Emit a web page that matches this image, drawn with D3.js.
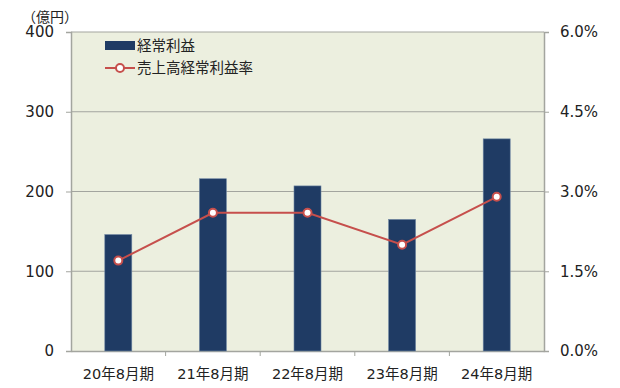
<!DOCTYPE html>
<html><head><meta charset="utf-8">
<script src="https://cdn.jsdelivr.net/npm/d3@7"></script>
<style>body{margin:0;background:#fff}svg{display:block}</style>
</head><body>
<svg id="c" width="620" height="388"></svg>
<script>
const categories = ["20年8月期","21年8月期","22年8月期","23年8月期","24年8月期"];
const profit = [146, 216, 207, 165, 266];
const ratio = [1.7, 2.6, 2.6, 2.0, 2.9];
const leftTicks = [0, 100, 200, 300, 400];
const rightTicks = [0, 1.5, 3.0, 4.5, 6.0];
const seriesNames = ["経常利益", "売上高経常利益率"];

const font = "'DejaVu Sans','Noto Sans CJK JP',sans-serif";
const svg = d3.select("#c");
const L = 71, R = 544, T = 32, B = 351;
const x = d3.scaleBand().domain(categories).range([L, R]).paddingInner(0).paddingOuter(0);
const yL = d3.scaleLinear().domain([0, 400]).range([B, T]);
const yR = d3.scaleLinear().domain([0, 6]).range([B, T]);

svg.append("rect").attr("x", L).attr("y", T).attr("width", R - L).attr("height", B - T).attr("fill", "#ECEFDF");

// gridlines
svg.append("g").selectAll("line").data(leftTicks.filter(d => d > 0)).join("line")
  .attr("x1", L).attr("x2", R).attr("y1", d => yL(d)).attr("y2", d => yL(d))
  .attr("stroke", "#A3A59F").attr("stroke-width", 1.2);

// left axis
const gl = svg.append("g").attr("transform", `translate(${L},0)`)
  .call(d3.axisLeft(yL).tickValues(leftTicks).tickSize(5).tickPadding(12).tickFormat(d3.format("d")));
gl.select(".domain").attr("stroke", "#A3A59F").attr("stroke-width", 1.5);
gl.selectAll(".tick line").attr("stroke", "#A3A59F");
gl.selectAll("text").attr("font-family", font).attr("font-size", 15).attr("fill", "#222");

// right axis
const gr = svg.append("g").attr("transform", `translate(${R},0)`)
  .call(d3.axisRight(yR).tickValues(rightTicks).tickSize(5).tickPadding(11).tickFormat(d => d.toFixed(1) + "%"));
gr.select(".domain").attr("stroke", "#A3A59F").attr("stroke-width", 1.5);
gr.selectAll(".tick line").attr("stroke", "#A3A59F");
gr.selectAll("text").attr("font-family", font).attr("font-size", 15).attr("fill", "#222");

// bottom axis
const gb = svg.append("g").attr("transform", `translate(0,${B})`)
  .call(d3.axisBottom(x).tickSize(0).tickPadding(18));
gb.select(".domain").attr("stroke", "#A3A59F").attr("stroke-width", 1.5);
gb.selectAll("text").attr("font-family", font).attr("font-size", 14.5).attr("fill", "#222");
gb.selectAll("line.sep").data(categories.slice(1)).join("line").attr("class", "sep")
  .attr("x1", d => x(d)).attr("x2", d => x(d)).attr("y1", 0).attr("y2", 5)
  .attr("stroke", "#A3A59F");

// bars
const bw = 27;
svg.append("g").selectAll("rect").data(profit).join("rect")
  .attr("x", (d, i) => x(categories[i]) + x.bandwidth() / 2 - bw / 2)
  .attr("width", bw)
  .attr("y", d => yL(d)).attr("height", d => B - yL(d))
  .attr("fill", "#1F3B64").attr("stroke", "#6F86A3").attr("stroke-width", 0.6);

// line
const cx = i => x(categories[i]) + x.bandwidth() / 2;
svg.append("path").datum(ratio)
  .attr("d", d3.line().x((d, i) => cx(i)).y(d => yR(d)))
  .attr("fill", "none").attr("stroke", "#C64F4C").attr("stroke-width", 2);
svg.append("g").selectAll("circle").data(ratio).join("circle")
  .attr("cx", (d, i) => cx(i)).attr("cy", d => yR(d)).attr("r", 4)
  .attr("fill", "#fff").attr("stroke", "#C64F4C").attr("stroke-width", 2);

// unit label
svg.append("text").attr("x", 22).attr("y", 22).attr("font-family", font).attr("font-size", 14)
  .attr("fill", "#222").text("（億円）");

// legend
const lg = svg.append("g");
lg.append("rect").attr("x", 105).attr("y", 41).attr("width", 30).attr("height", 9).attr("fill", "#1F3B64");
lg.append("text").attr("x", 137).attr("y", 51).attr("font-family", font).attr("font-size", 14.5).attr("fill", "#222").text(seriesNames[0]);
lg.append("line").attr("x1", 105).attr("x2", 135).attr("y1", 68).attr("y2", 68).attr("stroke", "#C64F4C").attr("stroke-width", 2);
lg.append("circle").attr("cx", 120).attr("cy", 68).attr("r", 4).attr("fill", "#fff").attr("stroke", "#C64F4C").attr("stroke-width", 2);
lg.append("text").attr("x", 137).attr("y", 73).attr("font-family", font).attr("font-size", 14.5).attr("fill", "#222").text(seriesNames[1]);
</script>
</body></html>
